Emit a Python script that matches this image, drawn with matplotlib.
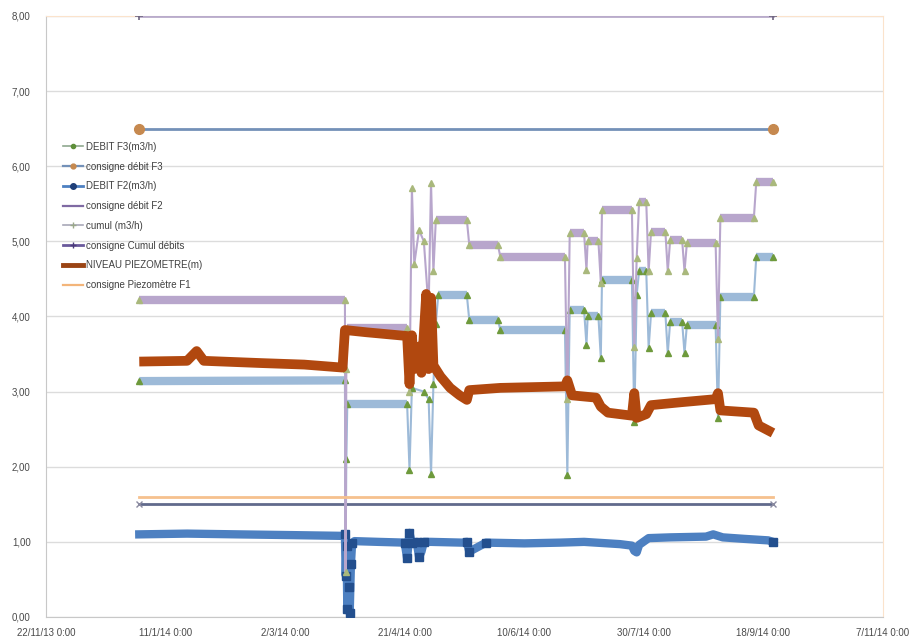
import matplotlib
matplotlib.use("Agg")
import matplotlib.pyplot as plt
import matplotlib.dates as mdates
from matplotlib.lines import Line2D
import numpy as np
import pandas as pd

plt.rcParams['font.family'] = ['Liberation Sans', 'DejaVu Sans']

# ---- data ---------------------------------------------------------------
debit_f3 = [
    ("2013-12-31", 3.14), ("2014-03-27", 3.15), ("2014-03-27 06:00", 0.55),
    ("2014-03-27 14:00", 2.10), ("2014-03-28", 2.84), ("2014-04-22", 2.84),
    ("2014-04-23", 1.96), ("2014-04-24", 3.05), ("2014-04-29", 3.00),
    ("2014-05-01", 2.90), ("2014-05-02", 1.90), ("2014-05-03", 3.10),
    ("2014-05-04", 3.90), ("2014-05-05", 4.28), ("2014-05-17", 4.28),
    ("2014-05-18", 3.95), ("2014-05-30", 3.95), ("2014-05-31", 3.82),
    ("2014-06-27", 3.82), ("2014-06-28", 1.89), ("2014-06-29", 4.09),
    ("2014-07-05", 4.09), ("2014-07-06", 3.62), ("2014-07-06 12:00", 4.00),
    ("2014-07-11", 4.00), ("2014-07-12", 3.45), ("2014-07-12 12:00", 4.49),
    ("2014-07-25", 4.49), ("2014-07-26", 2.60), ("2014-07-27", 4.29),
    ("2014-07-28", 4.60), ("2014-07-31", 4.60), ("2014-08-01", 3.58),
    ("2014-08-02", 4.04), ("2014-08-08", 4.04), ("2014-08-09", 3.51),
    ("2014-08-10", 3.93), ("2014-08-15", 3.93), ("2014-08-16", 3.51),
    ("2014-08-17", 3.89), ("2014-08-29", 3.89), ("2014-08-30", 2.65),
    ("2014-08-31", 4.26), ("2014-09-14", 4.26), ("2014-09-15", 4.79),
    ("2014-09-22", 4.79),
]

cumul = [
    ("2013-12-31", 4.22), ("2014-03-27", 4.22), ("2014-03-27 06:00", 0.60),
    ("2014-03-27 14:00", 3.30), ("2014-03-28", 3.85), ("2014-04-22", 3.85),
    ("2014-04-23", 3.00), ("2014-04-24", 5.71), ("2014-04-25", 4.70),
    ("2014-04-27", 5.15), ("2014-04-29", 5.00), ("2014-05-01", 4.10),
    ("2014-05-02", 5.78), ("2014-05-03", 4.60), ("2014-05-04", 5.28),
    ("2014-05-17", 5.28), ("2014-05-18", 4.95), ("2014-05-30", 4.95),
    ("2014-05-31", 4.79), ("2014-06-27", 4.79), ("2014-06-28", 2.90),
    ("2014-06-29", 5.11), ("2014-07-05", 5.11), ("2014-07-06", 4.62),
    ("2014-07-06 12:00", 5.00), ("2014-07-11", 5.00), ("2014-07-12", 4.45),
    ("2014-07-12 12:00", 5.42), ("2014-07-25", 5.42), ("2014-07-26", 3.60),
    ("2014-07-27", 4.78), ("2014-07-28", 5.52), ("2014-07-31", 5.52),
    ("2014-08-01", 4.60), ("2014-08-02", 5.13), ("2014-08-08", 5.13),
    ("2014-08-09", 4.60), ("2014-08-10", 5.02), ("2014-08-15", 5.02),
    ("2014-08-16", 4.60), ("2014-08-17", 4.98), ("2014-08-29", 4.98),
    ("2014-08-30", 3.70), ("2014-08-31", 5.31), ("2014-09-14", 5.31),
    ("2014-09-15", 5.79), ("2014-09-22", 5.79),
]

debit_f2 = [
    ("2013-12-31", 1.10), ("2014-01-20", 1.11), ("2014-02-10", 1.10),
    ("2014-03-05", 1.09), ("2014-03-26", 1.08), ("2014-03-27", 1.10),
    ("2014-03-27 08:00", 0.55), ("2014-03-27 16:00", 0.95),
    ("2014-03-28", 0.10), ("2014-03-28 12:00", 0.40), ("2014-03-29", 0.05),
    ("2014-03-29 12:00", 0.70), ("2014-03-30", 0.98), ("2014-03-31", 1.01),
    ("2014-04-10", 1.00), ("2014-04-21", 0.99), ("2014-04-22", 0.78),
    ("2014-04-23", 1.12), ("2014-04-24", 0.98), ("2014-04-26", 1.00),
    ("2014-04-27", 0.80), ("2014-04-28", 0.87), ("2014-04-29", 1.00),
    ("2014-05-02", 1.00), ("2014-05-15", 0.99), ("2014-05-17", 1.00),
    ("2014-05-18", 0.87), ("2014-05-25", 0.99), ("2014-06-10", 0.98),
    ("2014-06-25", 0.99), ("2014-07-05", 1.00), ("2014-07-20", 0.97),
    ("2014-07-25", 0.95), ("2014-07-26", 0.88), ("2014-07-27", 0.86),
    ("2014-07-28", 0.96), ("2014-08-01", 1.05), ("2014-08-10", 1.06),
    ("2014-08-25", 1.07), ("2014-08-28", 1.10), ("2014-09-01", 1.06),
    ("2014-09-10", 1.04), ("2014-09-20", 1.02), ("2014-09-22", 1.00),
]

niveau_piezo = [
    ("2013-12-31", 3.40), ("2014-01-20", 3.41), ("2014-01-24", 3.54),
    ("2014-01-27", 3.41), ("2014-02-20", 3.38), ("2014-03-10", 3.36),
    ("2014-03-26", 3.32), ("2014-03-27", 3.82), ("2014-04-05", 3.79),
    ("2014-04-22", 3.74), ("2014-04-23", 3.10), ("2014-04-24", 3.75),
    ("2014-04-25", 3.30), ("2014-04-27", 3.60), ("2014-04-28", 3.25),
    ("2014-04-30", 4.30), ("2014-05-01", 3.30), ("2014-05-02", 4.25),
    ("2014-05-03", 3.35), ("2014-05-06", 3.20), ("2014-05-10", 3.05),
    ("2014-05-14", 2.95), ("2014-05-17", 2.89), ("2014-05-18", 3.02),
    ("2014-05-31", 3.05), ("2014-06-27", 3.07), ("2014-06-28", 3.15),
    ("2014-06-30", 2.95), ("2014-07-10", 2.92), ("2014-07-12", 2.80),
    ("2014-07-15", 2.72), ("2014-07-25", 2.68), ("2014-07-26", 2.98),
    ("2014-07-27", 2.65), ("2014-07-31", 2.70), ("2014-08-02", 2.82),
    ("2014-08-15", 2.86), ("2014-08-29", 2.90), ("2014-08-30", 2.98),
    ("2014-08-31", 2.75), ("2014-09-14", 2.72), ("2014-09-16", 2.55),
    ("2014-09-22", 2.45),
]

consigne_period = ["2013-12-31", "2014-09-22"]
consigne_debit_f3 = 6.50
consigne_cumul = 8.00
consigne_debit_f2 = 1.50
consigne_piezo_f1 = 1.60

series_labels = ["DEBIT F3(m3/h)", "consigne débit F3", "DEBIT F2(m3/h)",
                 "consigne débit F2", "cumul (m3/h)", "consigne Cumul débits",
                 "NIVEAU PIEZOMETRE(m)", "consigne Piezomètre F1"]

xtick_labels = ["22/11/13 0:00", "11/1/14 0:00", "2/3/14 0:00", "21/4/14 0:00",
                "10/6/14 0:00", "30/7/14 0:00", "18/9/14 0:00", "7/11/14 0:00"]
ytick_values = [0, 1, 2, 3, 4, 5, 6, 7, 8]


# ---- helpers ------------------------------------------------------------
def to_num(strings):
    return mdates.date2num(pd.to_datetime(list(strings), format='mixed'))


def unpack(points):
    d = to_num(p[0] for p in points)
    v = np.array([p[1] for p in points], dtype=float)
    return d, v


def draw_stepped(ax, points, color, mcolor, marker, z):
    """Thin connecting line, wide band on the flat stretches, markers on points."""
    x, v = unpack(points)
    ax.plot(x, v, color=color, lw=1.5, zorder=z)
    for i in range(len(x) - 1):
        if abs(v[i + 1] - v[i]) < 0.03 and x[i + 1] - x[i] > 0.9:
            ax.plot(x[i:i + 2], v[i:i + 2], color=color, lw=6,
                    solid_capstyle='butt', zorder=z)
    ax.plot(x, v, ls='none', marker=marker, ms=4.5, mfc=mcolor, mec=mcolor,
            zorder=z + 0.1)


# ---- figure -------------------------------------------------------------
fig = plt.figure(figsize=(9.19, 6.41), dpi=100)
ax = fig.add_axes([46 / 919, 24 / 641, 837 / 919, 601 / 641])

x_start, x_end = to_num(["2013-11-22", "2014-11-07"])
ax.set_xlim(x_start, x_end)
ax.set_ylim(0, 8)

cx = to_num(consigne_period)

# DEBIT F3
draw_stepped(ax, debit_f3, '#9dbad8', '#6e9a3c', '^', 3)
# consigne débit F3
ax.plot(cx, [consigne_debit_f3] * 2, color='#7391b8', lw=2, zorder=4)
ax.plot(cx, [consigne_debit_f3] * 2, ls='none', marker='o', ms=7,
        mfc='#c6894f', mec='#c6894f', zorder=4.1)

# DEBIT F2
fx, fv = unpack(debit_f2)
ax.plot(fx, fv, color='#4d80c1', lw=6, solid_joinstyle='round', zorder=5)
neigh = np.convolve(np.r_[fv[0], fv, fv[-1]], [0.5, 0, 0.5], mode='valid')
flag = np.abs(fv - neigh) > 0.06
flag[-1] = True
ax.plot(fx[flag], fv[flag], ls='none', marker='s', ms=5.5,
        mfc='#234f8e', mec='#234f8e', zorder=5.1)

# consigne débit F2
ax.plot(cx, [consigne_debit_f2] * 2, color='#616a8c', lw=2, zorder=6)
ax.plot(cx, [consigne_debit_f2] * 2, ls='none', marker='x', ms=4,
        mec='#8a8aa0', zorder=6.1)

# cumul
draw_stepped(ax, cumul, '#b8a6cc', '#a9b87c', '^', 7)

# consigne Cumul débits
ax.plot(cx, [consigne_cumul] * 2, color='#b9abcb', lw=2, zorder=8)
ax.plot(cx, [consigne_cumul] * 2, ls='none', marker='+', ms=6, mew=1.2,
        mec='#6f6680', zorder=8.1)

# NIVEAU PIEZOMETRE
px, pv = unpack(niveau_piezo)
ax.plot(px, pv, color='#b1480f', lw=7, solid_joinstyle='round',
        solid_capstyle='butt', zorder=9)

# consigne Piezomètre F1
ax.plot(cx, [consigne_piezo_f1] * 2, color='#f6c18e', lw=2, zorder=10)

# ---- axes styling -------------------------------------------------------
ax.grid(axis='y', color='#dcdcdc', lw=1)
ax.set_axisbelow(True)
ax.set_yticks(ytick_values)
ax.set_yticklabels([f"{v:.2f}".replace('.', ',') for v in ytick_values])
xt = mdates.date2num(pd.to_datetime([s.split()[0] for s in xtick_labels],
                                    format="%d/%m/%y"))
ax.set_xticks(xt)
ax.set_xticklabels(xtick_labels)
ax.tick_params(axis='both', length=0, labelsize=7, colors='#4a4a4a')
ax.tick_params(axis='x', pad=8)
ax.tick_params(axis='y', pad=11)
for s in ('left', 'bottom'):
    ax.spines[s].set_color('#c8c8c8')
for s in ('top', 'right'):
    ax.spines[s].set_color('#fbe3cc')

# ---- legend -------------------------------------------------------------
handles = [
    Line2D([], [], color='#8fa88f', lw=1.2, marker='o', ms=3, mfc='#5e8f3a', mec='#5e8f3a'),
    Line2D([], [], color='#7391b8', lw=1.6, marker='o', ms=3.5, mfc='#c6894f', mec='#c6894f'),
    Line2D([], [], color='#4d80c1', lw=2, marker='o', ms=4, mfc='#1f3f78', mec='#1f3f78'),
    Line2D([], [], color='#7f6aa3', lw=1.6),
    Line2D([], [], color='#a8a8b8', lw=1.2, marker='+', ms=4, mec='#9aa88a'),
    Line2D([], [], color='#6a5a9c', lw=2, marker='+', ms=5, mec='#4a3a7a'),
    Line2D([], [], color='#9a4414', lw=3.5),
    Line2D([], [], color='#f3b57a', lw=1.6),
]
ax.legend(handles, series_labels, loc='upper left',
          bbox_to_anchor=(0.016, 0.797), frameon=False, fontsize=7,
          labelspacing=1.0, handlelength=2.0, handletextpad=0.3,
          borderaxespad=0, labelcolor='#404040')

fig.savefig("out.png", dpi=100)
